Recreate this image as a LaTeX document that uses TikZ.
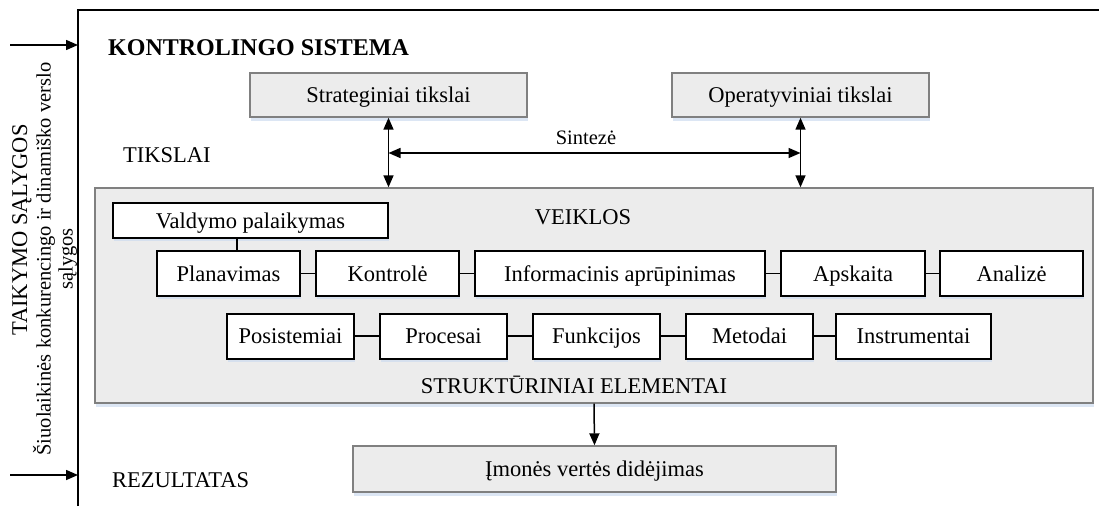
\documentclass[tikz,border=0pt]{standalone}
\usepackage{fontspec}
\setmainfont{Liberation Serif}
\usetikzlibrary{arrows.meta,shadows,calc}
\definecolor{gfill}{RGB}{236,236,236}
\definecolor{gline}{RGB}{128,128,128}
\definecolor{shcol}{RGB}{205,220,240}
\tikzset{
  x=1pt,y=-1pt,
  txt/.style={font=\fontsize{22.5}{25}\selectfont, inner sep=0pt},
  gbox/.style={draw=gline, line width=1.4pt, fill=gfill, inner sep=0pt,
     font=\fontsize{22.5}{25}\selectfont, text height=15pt, text depth=0pt,
     drop shadow={shadow xshift=1pt, shadow yshift=-4pt, fill=shcol, opacity=0.7}},
  wbox/.style={draw=black, line width=2pt, fill=white, inner sep=0pt,
     font=\fontsize{22.5}{25}\selectfont, minimum height=45pt, text height=15pt, text depth=0pt,
     drop shadow={shadow xshift=1pt, shadow yshift=-3pt, fill=shcol, opacity=0.7}},
  conn/.style={line width=1.5pt},
  arr/.style={line width=1.5pt, -{Triangle[length=12pt,width=10pt]}},
  darr/.style={line width=1.5pt, {Triangle[length=12pt,width=10pt]}-{Triangle[length=12pt,width=10pt]}},
}
\begin{document}
\begin{tikzpicture}
\useasboundingbox (0,0) rectangle (1099,506);
% frame
\draw[line width=2pt] (78,506) -- (78,10) -- (1099,10);
\coordinate (i1) at (10,45); \coordinate (f1) at (78,45);
\coordinate (i2) at (10,475); \coordinate (f2) at (78,475);
\draw[arr] (i1) -- (f1);
\draw[arr] (i2) -- (f2);
% left rotated texts
\node[txt, rotate=90] (cond) at (22,230) {TAIKYMO SĄLYGOS};
\node[txt, rotate=90, align=center, font=\fontsize{20.5}{22}\selectfont] (conddesc) at (55,259)
  {Šiuolaikinės konkurencingo ir dinamiško verslo\\sąlygos};
% titles
\node[txt, anchor=base west, font=\fontsize{24}{26}\bfseries\selectfont] (title) at (108,55) {KONTROLINGO SISTEMA};
\node[txt, anchor=base west] (tikslai) at (123,162) {TIKSLAI};
\node[txt, anchor=base west] (rezultatas) at (112,487) {REZULTATAS};
% goal boxes
\node[gbox, minimum width=277pt, minimum height=44pt] (strat) at (388.5,95) {Strateginiai tikslai};
\node[gbox, minimum width=257pt, minimum height=44pt] (oper) at (800.5,95) {Operatyviniai tikslai};
% big box
\node[gbox, minimum width=998pt, minimum height=215pt] (big) at (594,295.5) {};
\node[txt, anchor=base] (veiklos) at (583,224) {VEIKLOS};
\node[txt, anchor=base] (strukt) at (574,393) {STRUKTŪRINIAI ELEMENTAI};
% synthesis arrows
\draw[darr] (strat.south) -- (strat.south |- big.north);
\draw[darr] (oper.south) -- (oper.south |- big.north);
\coordinate (sl) at (388.5,153); \coordinate (sr) at (800.5,153);
\draw[darr] (sl) -- (sr);
\node[txt, anchor=base, font=\fontsize{20.5}{22}\selectfont] (sint) at (586,144) {Sintezė};
% activity boxes
\node[wbox, minimum width=275pt, minimum height=35pt] (valdymas) at (250.5,220.5) {Valdymo palaikymas};
\node[wbox, minimum width=143pt] (plan) at (228.5,273.5) {Planavimas};
\node[wbox, minimum width=143pt] (kontr) at (387.5,273.5) {Kontrolė};
\node[wbox, minimum width=290pt] (info) at (620,273.5) {Informacinis aprūpinimas};
\node[wbox, minimum width=144pt] (apsk) at (853,273.5) {Apskaita};
\node[wbox, minimum width=143pt] (anal) at (1011.5,273.5) {Analizė};
\draw[conn] ([xshift=-13.5pt]valdymas.south) -- ([xshift=-13.5pt]valdymas.south |- plan.north);
\draw[conn] (plan) -- (kontr);
\draw[conn] (kontr) -- (info);
\draw[conn] (info) -- (apsk);
\draw[conn] (apsk) -- (anal);
% structural boxes
\node[wbox, minimum width=127pt] (posi) at (290.5,336) {Posistemiai};
\node[wbox, minimum width=127pt] (proc) at (443.5,336) {Procesai};
\node[wbox, minimum width=127pt] (funk) at (596.5,336) {Funkcijos};
\node[wbox, minimum width=127pt] (meto) at (749.5,336) {Metodai};
\node[wbox, minimum width=155pt] (instr) at (913.5,336) {Instrumentai};
\draw[conn] (posi) -- (proc);
\draw[conn] (proc) -- (funk);
\draw[conn] (funk) -- (meto);
\draw[conn] (meto) -- (instr);
% result
\node[gbox, minimum width=483pt, minimum height=46pt] (rez) at (594.5,469) {Įmonės vertės didėjimas};
\draw[arr] (big.south) -- (rez.north);
\end{tikzpicture}
\end{document}
